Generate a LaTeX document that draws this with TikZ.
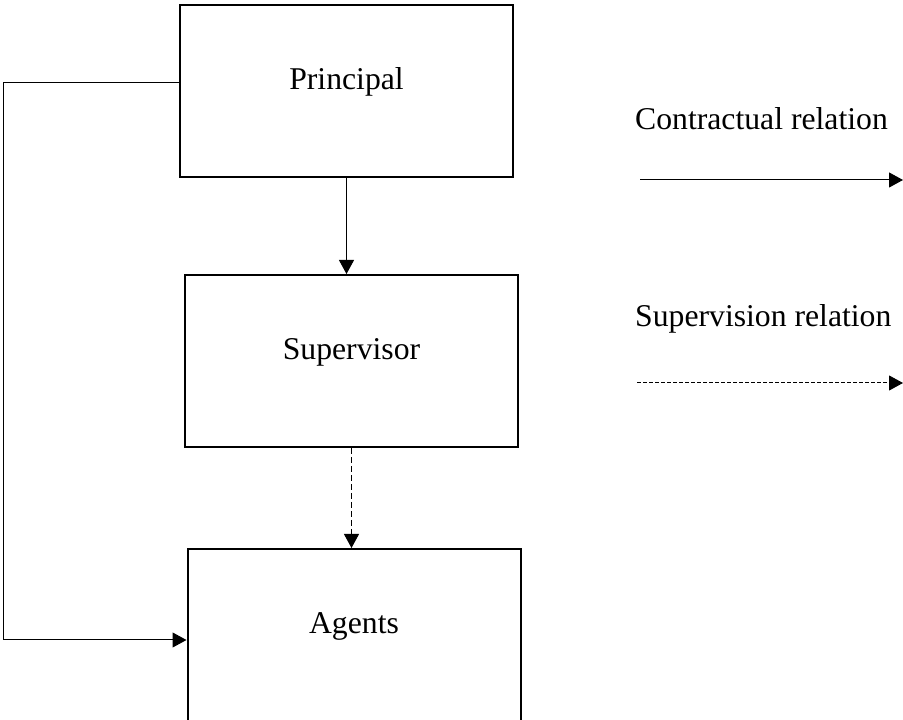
\documentclass[tikz,border=0pt]{standalone}
\usepackage{fontspec}
\setmainfont{Liberation Serif}
\usepackage{tikz}
\usetikzlibrary{arrows.meta}

\tikzset{
	box/.style={draw, line width=2pt, minimum width=333pt, minimum height=172pt, inner sep=0pt,
		text height=22pt, text depth=24pt, font=\fontsize{31.7}{38}\selectfont},
	legendtext/.style={anchor=base west, inner sep=0pt, font=\fontsize{31.7}{38}\selectfont},
	conn/.style={line width=1pt, -{Triangle[length=14pt,width=15pt]}},
	superv/.style={conn, dash pattern=on 6pt off 3pt}
}

\begin{document}
\begin{tikzpicture}[x=1pt, y=1pt]
	\useasboundingbox (0,0) rectangle (903,720);
	% the three boxes
	\node[box] (principal) at (346.5,629) {Principal};
	\node[box] (supervisor) at (351.5,359) {Supervisor};
	\node[box] (agents) at (354,85) {Agents};
	% relations between them
	\draw[conn] (principal.south) -- (principal.south |- supervisor.north);
	\draw[superv] (supervisor.south) -- (supervisor.south |- agents.north);
	\draw[conn] ([yshift=8pt]principal.west) -- ++(-176,0) |- ([yshift=-5pt]agents.west);
	% legend
	\node[legendtext] (contract) at (635,590) {Contractual relation};
	\coordinate (c1) at (640,540);
	\coordinate (c2) at (903,540);
	\draw[conn] (c1) -- (c2);
	\node[legendtext] (supervision) at (635,393) {Supervision relation};
	\coordinate (s1) at (637,337);
	\coordinate (s2) at (903,337);
	\draw[superv, dash pattern=on 4pt off 2pt] (s1) -- (s2);
\end{tikzpicture}
\end{document}
